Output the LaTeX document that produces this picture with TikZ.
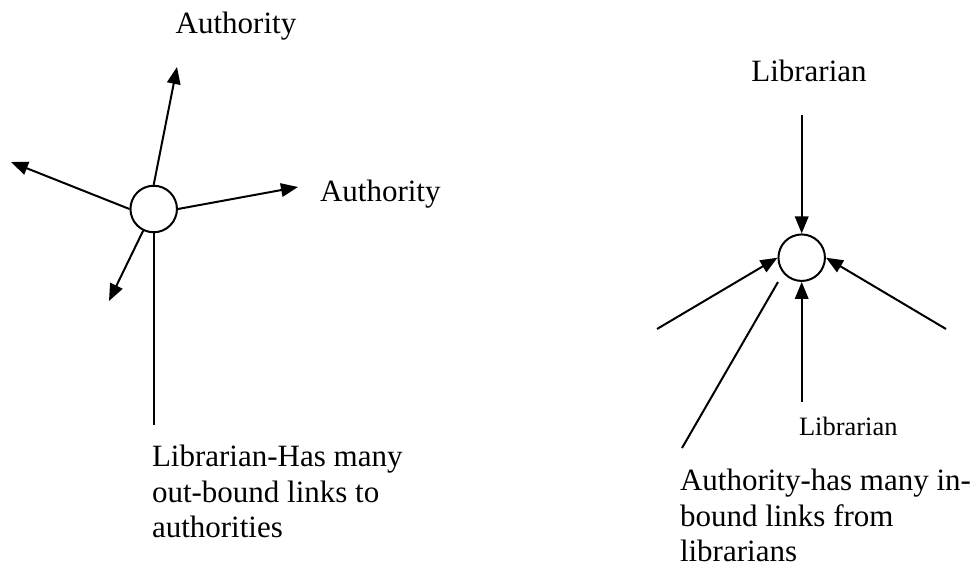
\documentclass[tikz,border=0pt]{standalone}
\usepackage{fontspec}
\setmainfont{Liberation Serif}
\usetikzlibrary{arrows.meta,positioning}
\newcommand{\bigtext}{\fontsize{12.4}{14.2}\selectfont}
\newcommand{\smalltext}{\fontsize{10.6}{12.2}\selectfont}

\begin{document}
\begin{tikzpicture}[->,>={Triangle[length=6.8pt,width=5.4pt]},x=0.4pt,y=-0.4pt,line width=0.8pt]
		  \tikzstyle{hub}=[circle,draw=black,fill=white,minimum size=18.6pt,inner sep=0pt]
		  \tikzstyle{caption}=[inner sep=0pt,font=\bigtext,align=left]

		  \useasboundingbox (0,0) rectangle (979,565);

		  % librarian hub (left)
		  \node[hub] (hubL) at (153.7,209) {};
		  \coordinate (tipN) at (177,67);
		  \coordinate (tipW) at (11,162);
		  \coordinate (tipE) at (298,187);
		  \coordinate (tipS) at (109,301);
		  \coordinate (stemL) at (153.7,425);
		  \node[caption,anchor=base] (authN) at (236,34) {Authority};
		  \node[caption,anchor=base west] (authE) at (319,202) {Authority};
		  \node[caption,anchor=base west] (noteL) at (151,537.5) {Librarian-Has many\\out-bound links to\\authorities};

		  % authority hub (right)
		  \node[hub] (hubR) at (801.7,257.7) {};
		  \node[caption,anchor=base] (libN) at (809,82) {Librarian};
		  \coordinate (srcN) at (801.7,115);
		  \coordinate (srcW) at (657,329);
		  \coordinate (srcE) at (946,329);
		  \coordinate (srcS) at (801.7,402);
		  \coordinate (ptrA) at (682,448);
		  \coordinate (ptrB) at (778,282);
		  \node[caption,font=\smalltext,anchor=base west] (libS) at (798,435.5) {Librarian};
		  \node[caption,anchor=base west] (noteR) at (679,561.5) {Authority-has many in-\\bound links from\\librarians};

		  \path (hubL.north) edge (tipN);
		  \path (hubL.west) edge (tipW);
		  \path (hubL.east) edge (tipE);
		  \path (hubL) edge (tipS);
		  \draw[-] (hubL.south) -- (stemL);

		  \path (srcN) edge (hubR.north);
		  \path (srcW) edge (hubR.west);
		  \path (srcE) edge (hubR.east);
		  \path (srcS) edge (hubR.south);
		  \draw[-] (ptrA) -- (ptrB);
		\end{tikzpicture}
\end{document}
